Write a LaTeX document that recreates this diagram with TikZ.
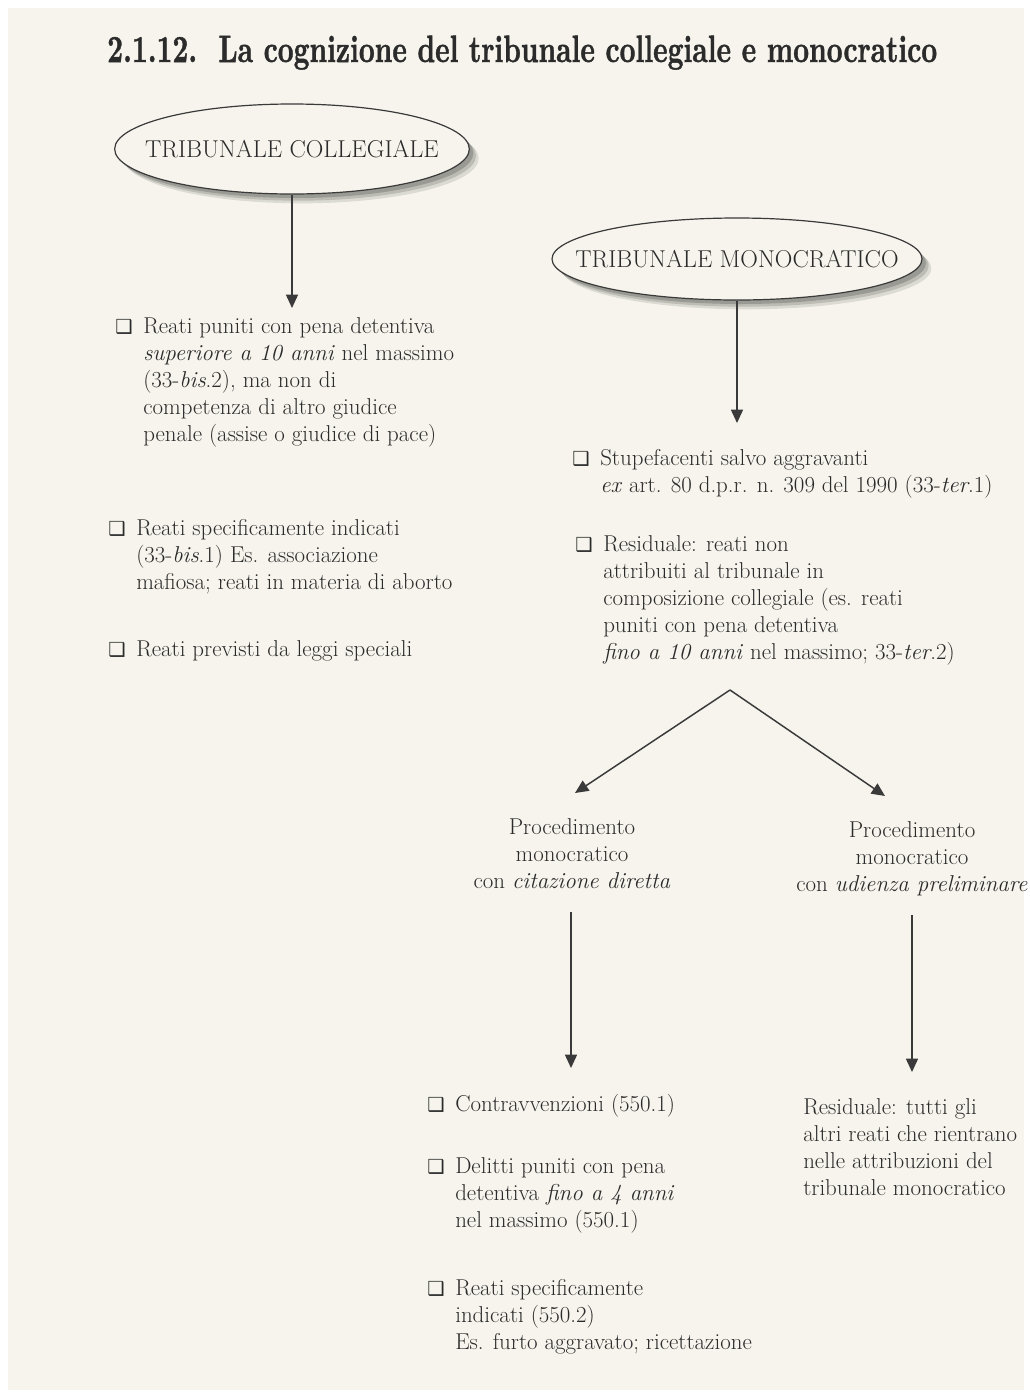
\documentclass[tikz,border=0pt]{standalone}
\usepackage{fontspec}
\newfontfamily\dingfont{DejaVu Sans}
\usetikzlibrary{shapes.geometric,arrows.meta,shadows}
\definecolor{paper}{HTML}{F6F4EC}
\definecolor{ink}{HTML}{2B2B2B}
\definecolor{rulecol}{HTML}{3A3A3A}
% heavier bold face for the heading
\font\headfont="[lmroman10-bold.otf]:embolden=1.3" at 20.7pt
% square bullet hung to the left of the first line
\newcommand\boxbul{\llap{{\dingfont\fontsize{14.5}{14.5}\selectfont\char"2751}\hspace{8pt}}}
\newcommand\bodyfont{\fontsize{17.2}{20.25}\selectfont}

\begin{document}
\begin{tikzpicture}[x=0.75pt,y=-0.75pt,
  txt/.style={anchor=north west, inner sep=0pt, align=left, font=\bodyfont, text=ink},
  ctxt/.style={anchor=north, inner sep=0pt, align=center, font=\bodyfont, text=ink},
  court/.style={ellipse, draw=rulecol, line width=0.9pt, fill=paper,
    font=\fontsize{18.3}{20}\selectfont, text=ink, inner xsep=-60pt, inner ysep=0pt,
    drop shadow={shadow xshift=7pt, shadow yshift=-7pt, opacity=0.10, fill=black},
    drop shadow={shadow xshift=5pt, shadow yshift=-5pt, opacity=0.14, fill=black},
    drop shadow={shadow xshift=3pt, shadow yshift=-3pt, opacity=0.18, fill=black}},
  arr/.style={draw=rulecol, line width=1.1pt, -{Triangle[length=10pt,width=9pt]}}
]
% page
\fill[white] (0,0) rectangle (1030,1397);
\fill[paper] (8,8) rectangle (1024,1390);
\useasboundingbox (0,0) rectangle (1030,1397);

% heading
\node[anchor=base west, inner sep=0pt, text=ink, font=\headfont]
  (title) at (107,62) {\scalebox{1}[1.38]{\makebox[83.5pt][l]{2.1.12.}La cognizione del tribunale collegiale e monocratico}};

% the two courts
\node[court, minimum width=266pt, minimum height=67.5pt] (coll) at (292,149) {TRIBUNALE COLLEGIALE};
\node[court, minimum width=277.5pt, minimum height=61.5pt] (mono) at (737,259) {TRIBUNALE MONOCRATICO};

% collegial court: competence
\node[txt] (c1) at (143,314.1) {\strut\boxbul Reati puniti con pena detentiva\\
  \textit{superiore a 10 anni} nel massimo\\
  (33-\textit{bis}.2), ma non di\\
  competenza di altro giudice\\
  penale (assise o giudice di pace)};
\node[txt] (c2) at (136,516.1) {\strut\boxbul Reati specificamente indicati\\
  (33-\textit{bis}.1) Es. associazione\\
  mafiosa; reati in materia di aborto};
\node[txt] (c3) at (136,637.1) {\strut\boxbul Reati previsti da leggi speciali};

% single-judge court: competence
\node[txt] (m1) at (600,446.1) {\strut\boxbul Stupefacenti salvo aggravanti\\
  \textit{ex} art. 80 d.p.r. n. 309 del 1990 (33-\textit{ter}.1)};
\node[txt] (m2) at (603,532.1) {\strut\boxbul Residuale: reati non\\
  attribuiti al tribunale in\\
  composizione collegiale (es. reati\\
  puniti con pena detentiva\\
  \textit{fino a 10 anni} nel massimo; 33-\textit{ter}.2)};

% the two procedures
\node[ctxt] (pdir) at (572,815.1) {\strut Procedimento\\monocratico\\con \textit{citazione diretta}};
\node[ctxt] (pudp) at (912,818.1) {\strut Procedimento\\monocratico\\con \textit{udienza preliminare}};

% direct summons
\node[txt] (d1) at (455,1092.1) {\strut\boxbul Contravvenzioni (550.1)};
\node[txt] (d2) at (455,1154.1) {\strut\boxbul Delitti puniti con pena\\
  detentiva \textit{fino a 4 anni}\\
  nel massimo (550.1)};
\node[txt] (d3) at (455,1276.1) {\strut\boxbul Reati specificamente\\
  indicati (550.2)\\
  Es. furto aggravato; ricettazione};

% preliminary hearing
\node[txt] (u1) at (803,1095.1) {\strut Residuale: tutti gli\\
  altri reati che rientrano\\
  nelle attribuzioni del\\
  tribunale monocratico};

% connectors
\coordinate (collTip) at (292,308);
\coordinate (monoTip) at (737,423);
\coordinate (fork) at (730,690);
\coordinate (forkL) at (575,793);
\coordinate (forkR) at (885,796);
\coordinate (dirFrom) at (571,912);
\coordinate (dirTip) at (571,1068);
\coordinate (udpFrom) at (912,915);
\coordinate (udpTip) at (912,1072);

\draw[arr] (coll.south) -- (collTip);
\draw[arr] (mono.south) -- (monoTip);
\draw[arr] (fork) -- (forkL);
\draw[arr] (fork) -- (forkR);
\draw[arr] (dirFrom) -- (dirTip);
\draw[arr] (udpFrom) -- (udpTip);
\end{tikzpicture}
\end{document}
